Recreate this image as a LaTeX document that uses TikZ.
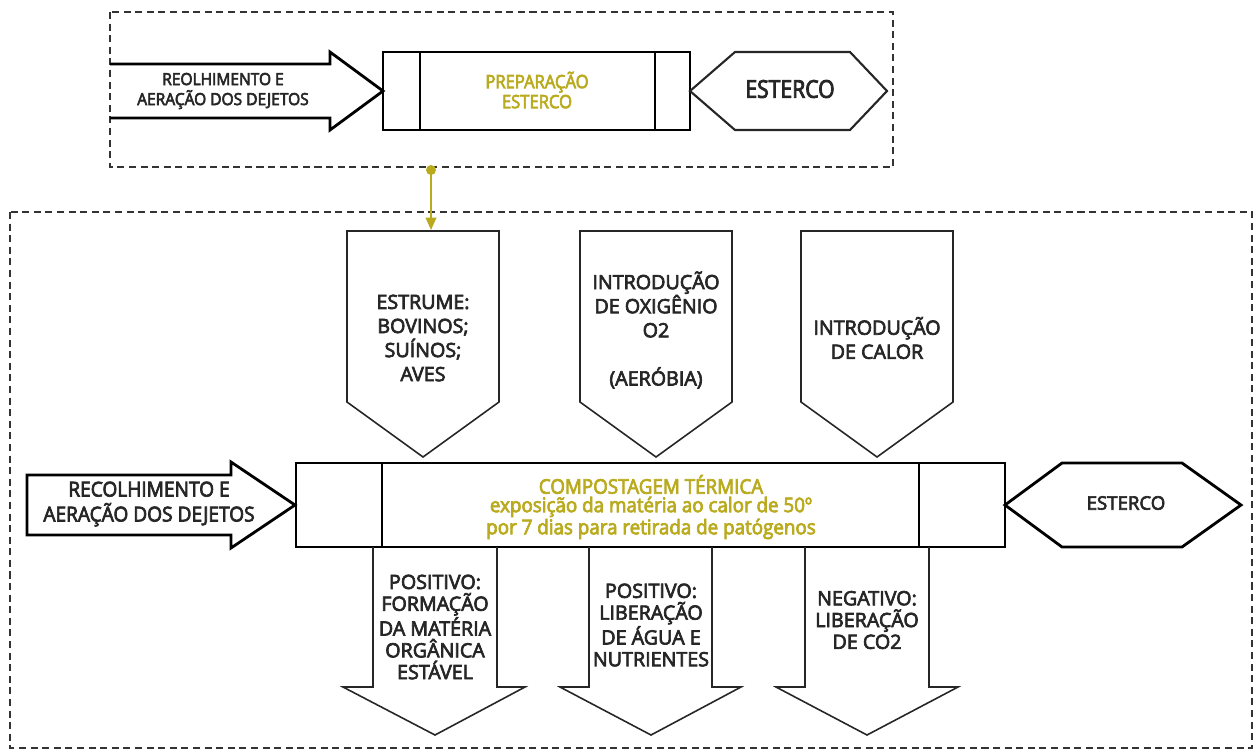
\documentclass[tikz,border=0pt]{standalone}
\usepackage{fontspec}
\setmainfont{Open Sans}[FakeBold=3.5]
\newfontfamily\condA{Open Sans}[FakeStretch=0.93,FakeBold=3.5]
\newfontfamily\condB{Open Sans}[FakeStretch=0.9,FakeBold=3.5]
\newfontfamily\condC{Open Sans}[FakeStretch=0.86,FakeBold=3.5]
\usetikzlibrary{arrows.meta}
\definecolor{gold}{RGB}{185,170,30}
\tikzset{
  frame/.style={draw=black!80, line width=1.3pt, dash pattern=on 4pt off 2.6pt},
  thick box/.style={draw=black, line width=1.6pt},
  thin shape/.style={draw=black!85, line width=0.9pt},
  txt/.style={align=center, inner sep=0pt, text=black!85, font=\fontsize{11.2}{13.7}\selectfont},
  dtxt/.style={txt, font=\fontsize{11.2}{12.4}\selectfont},
  goldtxt/.style={align=center, inner sep=0pt, text=gold},
  conn/.style={draw=gold, line width=1pt, -{Triangle[length=7pt,width=6pt]}},
}
\begin{document}
\begin{tikzpicture}[x=0.02cm,y=-0.02cm]
\useasboundingbox (0,0) rectangle (1256,751);
% frames
\draw[frame] (110,12) rectangle (893,167);
\draw[frame] (10,212) rectangle (1252,748);
% ---- top group
\draw[thick box] (110,64) -- (330,64) -- (330,52) -- (383,91) -- (330,130) -- (330,118) -- (110,118);
\draw[thick box] (383,52) rectangle (690,130);
\draw[thick box] (420,52) -- (420,130) (655,52) -- (655,130);
\draw[thin shape, line width=1.2pt] (690,91) -- (735,52) -- (850,52) -- (887,91) -- (850,130) -- (735,130) -- cycle;
\node[txt, font=\condA\fontsize{9.5}{11.4}\selectfont] (t1) at (223,91) {REOLHIMENTO E\\AERAÇÃO DOS DEJETOS};
\node[goldtxt, font=\condB\fontsize{10.5}{11.4}\selectfont] (t2) at (537,90) {PREPARAÇÃO\\ESTERCO};
\node[txt, font=\condC\fontsize{14}{16}\selectfont] (t3) at (790,89) {ESTERCO};
% ---- connector
\coordinate (dot) at (431,170);
\coordinate (a1top) at (431,230);
\fill[gold] (dot) circle (5);
\draw[conn] (dot) -- (a1top);
% ---- top arrows (down)
\draw[thin shape] (347,231) -- (499,231) -- (499,402) -- (423,457) -- (347,402) -- cycle;
\draw[thin shape] (580,231) -- (732,231) -- (732,402) -- (656,457) -- (580,402) -- cycle;
\draw[thin shape] (801,231) -- (953,231) -- (953,402) -- (877,457) -- (801,402) -- cycle;
\node[txt] (u1) at (423,338) {ESTRUME:\\BOVINOS;\\SUÍNOS;\\AVES};
\node[txt] (u2) at (656,330) {INTRODUÇÃO\\DE OXIGÊNIO\\O2\\[13.7pt](AERÓBIA)};
\node[txt] (u3) at (877,338) {INTRODUÇÃO\\DE CALOR};
% ---- main row
\draw[thick box] (27,475) -- (231,475) -- (231,462) -- (295,505) -- (231,548) -- (231,535) -- (27,535) -- cycle;
\draw[thick box] (296,463) rectangle (1005,547);
\draw[thick box] (382,463) -- (382,547) (919,463) -- (919,547);
\draw[thick box] (1005,505) -- (1062,463) -- (1182,463) -- (1241,505) -- (1182,547) -- (1062,547) -- cycle;
\node[txt, font=\condA\fontsize{11.7}{14.2}\selectfont] (m1) at (149,504) {RECOLHIMENTO E\\AERAÇÃO DOS DEJETOS};
\node[goldtxt, font=\condA\fontsize{11.5}{10.5}\selectfont] (m2) at (651,507) {COMPOSTAGEM TÉRMICA\\exposição da matéria ao calor de 50º\\por 7 dias para retirada de patógenos};
\node[txt, font=\fontsize{10.6}{12}\selectfont] (m3) at (1126,503) {ESTERCO};
% ---- bottom arrows
\draw[thin shape] (373,547) -- (373,687) -- (343,687) -- (435,735) -- (525,687) -- (497,687) -- (497,547);
\draw[thin shape] (589,547) -- (589,687) -- (560,687) -- (651,735) -- (741,687) -- (712,687) -- (712,547);
\draw[thin shape] (805,547) -- (805,687) -- (776,687) -- (867,735) -- (958,687) -- (929,687) -- (929,547);
\node[dtxt] (d1) at (435,627) {POSITIVO:\\FORMAÇÃO\\DA MATÉRIA\\ORGÂNICA\\ESTÁVEL};
\node[dtxt] (d2) at (651,625) {POSITIVO:\\LIBERAÇÃO\\DE ÁGUA E\\NUTRIENTES};
\node[dtxt] (d3) at (867,620) {NEGATIVO:\\LIBERAÇÃO\\DE CO2};
\end{tikzpicture}
\end{document}
